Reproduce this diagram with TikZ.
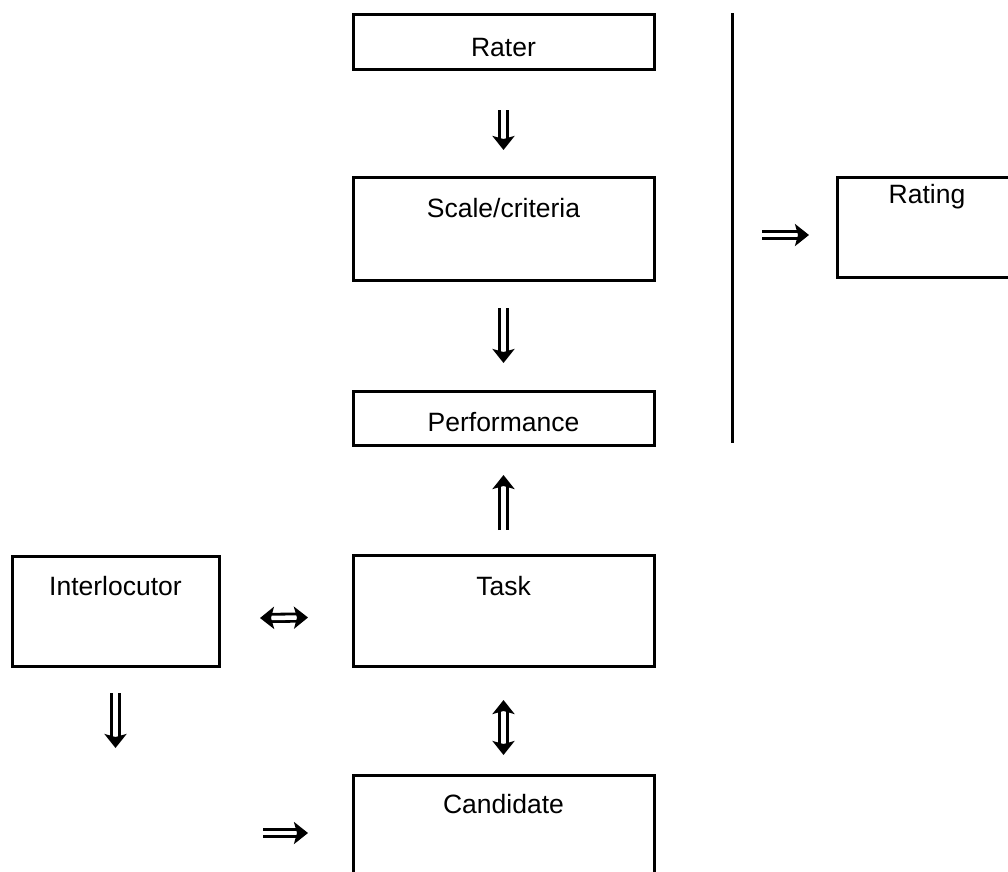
\documentclass[tikz,border=0pt]{standalone}
\usepackage{fontspec}
\setmainfont{Liberation Sans}
\usetikzlibrary{arrows.meta}
\begin{document}
\begin{tikzpicture}[x=1pt,y=-1pt,
  box/.style={draw, line width=3pt, inner sep=0pt, outer sep=0pt, anchor=north west, font=\fontsize{26.5}{31}\selectfont},
  tip/.style={Stealth[length=14pt, width=22pt, inset=3pt]},
  dbl/.style={double, double distance=4.5pt, line width=2.8pt, -{Stealth[length=14pt, width=22pt, inset=3pt]}},
  dbltwo/.style={double, double distance=4.5pt, line width=2.8pt, {Stealth[length=14pt, width=22pt, inset=3pt]}-{Stealth[length=14pt, width=22pt, inset=3pt]}},
  sep/.style={line width=3pt}
]
\useasboundingbox (0,0) rectangle (1008,871);
\clip (0,0) rectangle (1008,871);
% boxes
\node[box, minimum width=301pt, text height=42pt, text depth=13pt] (rater) at (353,14) {Rater};
\node[box, minimum width=301pt, text height=40.5pt, text depth=62.5pt] (scale) at (353,177) {Scale/criteria};
\node[box, minimum width=301pt, text height=40pt, text depth=14pt] (perf) at (353,391) {Performance};
\node[box, minimum width=301pt, text height=40pt, text depth=71pt] (task) at (353,555) {Task};
\node[box, minimum width=301pt, text height=38pt, text depth=120pt] (cand) at (353,775) {Candidate};
\node[box, minimum width=207pt, text height=39pt, text depth=71pt] (inter) at (12,556) {Interlocutor};
\node[box, minimum width=180pt, text height=26pt, text depth=74pt] (rating) at (837,177) {Rating};
% separator
\coordinate (vtop) at (732,13);
\coordinate (vbot) at (732,443);
\draw[sep] (vtop) -- (vbot);
% arrows
\draw[dbl] ([yshift=-41pt]rater.south) -- ([yshift=27pt]scale.north);
\draw[dbl] ([yshift=-28pt]scale.south) -- ([yshift=28pt]perf.north);
\draw[dbl] ([yshift=25pt]task.north) -- ([yshift=-30pt]perf.south);
\draw[dbltwo] ([yshift=-34pt]task.south) -- ([yshift=20pt]cand.north);
\draw[dbltwo] ([xshift=41pt,yshift=-7pt]inter.east) -- ([xshift=-45pt,yshift=-7pt]task.west);
\coordinate (iend) at (115,748);
\draw[dbl] ([yshift=-27pt]inter.south) -- (inter.south |- iend);
\coordinate (cstart) at (263,833);
\draw[dbl] (cstart) -- ([xshift=-45pt]cstart -| cand.west);
\coordinate (rstart) at (762,235);
\draw[dbl] (rstart) -- ([xshift=-28pt]rstart -| rating.west);
\end{tikzpicture}
\end{document}
